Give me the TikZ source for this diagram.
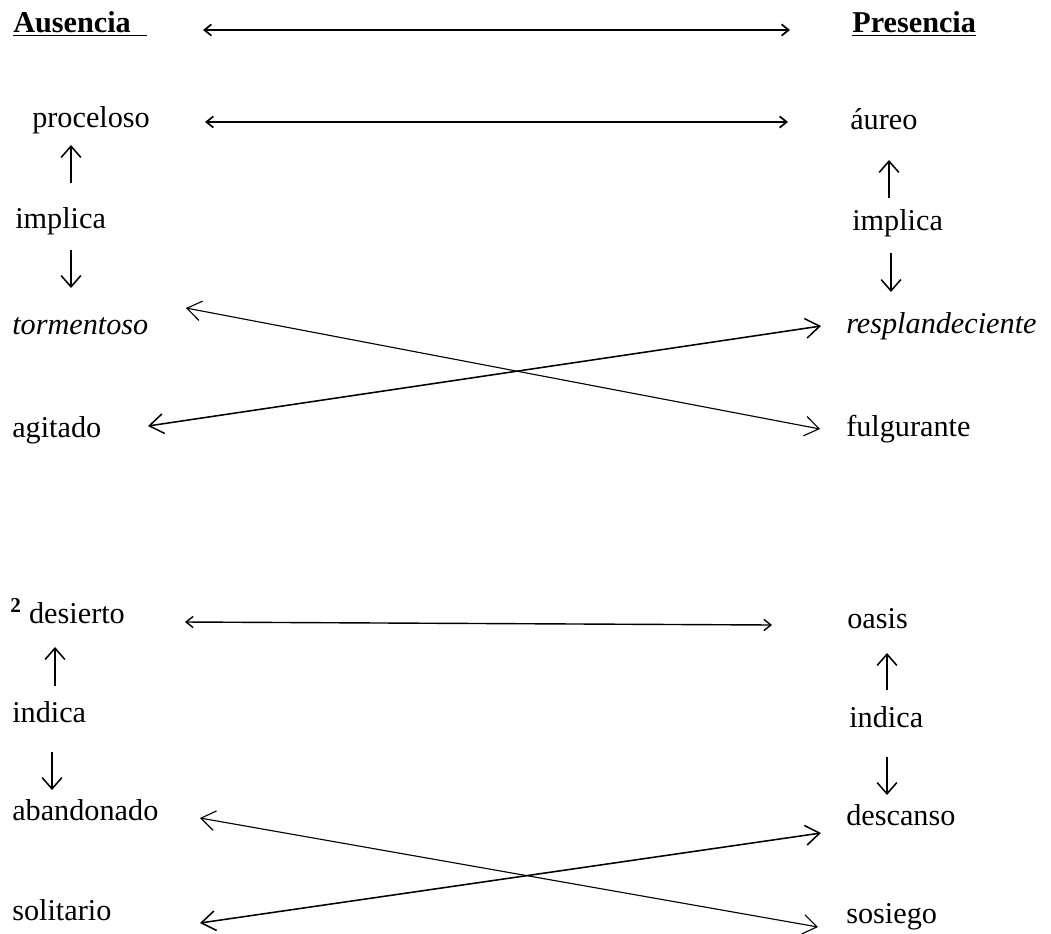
\documentclass[tikz,border=0pt]{standalone}
\usepackage{fontspec}
\setmainfont{Liberation Serif}
\usetikzlibrary{arrows.meta}

\begin{document}
\begin{tikzpicture}[x=0.025cm,y=-0.025cm,
  word/.style={anchor=base west,inner sep=0pt,font=\fontsize{21.5}{26}\selectfont},
  vlink/.style={->,>={Straight Barb[length=8pt,width=14pt]},line width=1.1pt},
  hlink/.style={<->,>={Straight Barb[length=5pt,width=8pt]},line width=1.2pt},
  xlink/.style={<->,>={Straight Barb[length=10pt,width=14pt]},line width=0.8pt}]
  \useasboundingbox (0,0) rectangle (1051,933);
  %% Headers
  \node[word] (aus)  at (13,33)  {\underline{\textbf{Ausencia}\hspace{0.55em}}};
  \node[word] (pres) at (852,33) {\underline{\textbf{Presencia}}};
  %% Upper block, left column
  \node[word] (proc) at (32,128)  {proceloso};
  \node[word] (impl) at (15,228)  {implica};
  \node[word] (torm) at (12,334)  {\itshape tormentoso};
  \node[word] (agit) at (12,437)  {agitado};
  %% Upper block, right column
  \node[word] (aur)  at (850,130) {áureo};
  \node[word] (impr) at (852,230) {implica};
  \node[word] (resp) at (846,333) {\itshape resplandeciente};
  \node[word] (fulg) at (846,436) {fulgurante};
  %% Lower block, left column
  \node[word] (des)  at (10,623)  {\textsuperscript{\textbf{2}}\ desierto};
  \node[word] (ind)  at (12,722)  {indica};
  \node[word] (aban) at (12,820)  {abandonado};
  \node[word] (sol)  at (12,920)  {solitario};
  %% Lower block, right column
  \node[word] (oas)  at (847,628) {oasis};
  \node[word] (indr) at (849,727) {indica};
  \node[word] (desc) at (846,825) {descanso};
  \node[word] (sos)  at (846,923) {sosiego};
  %% Horizontal links
  \draw[hlink] ([shift={(190,-3)}]aus.base west)  -- ([shift={(-62,-3)}]pres.base west);
  \draw[hlink] ([shift={(173,-6)}]proc.base west) -- ([shift={(-62,-8)}]aur.base west);
  \draw[hlink,line width=1pt] ([shift={(175,-1)}]des.base west) -- ([shift={(-75,-3)}]oas.base west);
  %% Crossed links
  \draw[xlink] ([shift={(174,-26)}]torm.base west) -- ([shift={(-26,-7)}]fulg.base west);
  \draw[xlink,line width=1.1pt] ([shift={(136,-11)}]agit.base west) -- ([shift={(-25,-7)}]resp.base west);
  \draw[xlink] ([shift={(188,-2)}]aban.base west) -- ([shift={(-28,4)}]sos.base west);
  \draw[xlink,line width=1.1pt] ([shift={(188,3)}]sol.base west) -- ([shift={(-25,8)}]desc.base west);
  %% Vertical links
  \draw[vlink] ([shift={(56,-45)}]impl.base west) -- ([shift={(39,17)}]proc.base west);
  \draw[vlink] ([shift={(56,22)}]impl.base west)  -- ([shift={(59,-46)}]torm.base west);
  \draw[vlink] ([shift={(37,-32)}]impr.base west) -- ([shift={(39,30)}]aur.base west);
  \draw[vlink] ([shift={(39,23)}]impr.base west)  -- ([shift={(45,-41)}]resp.base west);
  \draw[vlink] ([shift={(43,-36)}]ind.base west)  -- ([shift={(45,24)}]des.base west);
  \draw[vlink] ([shift={(40,30)}]ind.base west)   -- ([shift={(40,-30)}]aban.base west);
  \draw[vlink] ([shift={(38,-37)}]indr.base west) -- ([shift={(40,25)}]oas.base west);
  \draw[vlink] ([shift={(38,30)}]indr.base west)  -- ([shift={(41,-30)}]desc.base west);
\end{tikzpicture}
\end{document}
